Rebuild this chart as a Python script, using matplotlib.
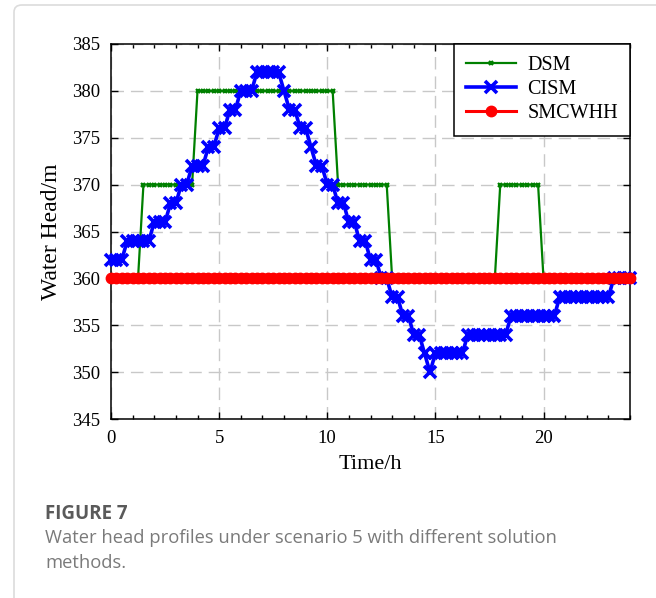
import numpy as np
import matplotlib
matplotlib.use('Agg')
import matplotlib.pyplot as plt
from matplotlib.patches import FancyBboxPatch
from matplotlib.ticker import MultipleLocator

# time axis, 15 min steps over one day
time_h = np.arange(97) * 0.25

dsm = [360, 360, 360, 360, 360, 360,
       370, 370, 370, 370, 370, 370, 370, 370, 370, 370,
       380, 380, 380, 380, 380, 380, 380, 380, 380, 380, 380, 380, 380,
       380, 380, 380, 380, 380, 380, 380, 380, 380, 380, 380, 380, 380,
       370, 370, 370, 370, 370, 370, 370, 370, 370, 370,
       360, 360, 360, 360, 360, 360, 360, 360, 360, 360,
       360, 360, 360, 360, 360, 360, 360, 360, 360, 360,
       370, 370, 370, 370, 370, 370, 370, 370,
       360, 360, 360, 360, 360, 360, 360, 360, 360, 360, 360, 360, 360,
       360, 360, 360, 360]

cism = [362, 362, 362, 364, 364, 364, 364, 364, 366, 366, 366,
        368, 368, 370, 370, 372, 372, 372, 374, 374, 376, 376,
        378, 378, 380, 380, 380, 382, 382, 382, 382, 382,
        380, 378, 378, 376, 376, 374, 372, 372, 370, 370,
        368, 368, 366, 366, 364, 364, 362, 362, 360, 360,
        358, 358, 356, 356, 354, 354, 352, 350,
        352, 352, 352, 352, 352, 352,
        354, 354, 354, 354, 354, 354, 354, 354,
        356, 356, 356, 356, 356, 356, 356, 356, 356,
        358, 358, 358, 358, 358, 358, 358, 358, 358, 358,
        360, 360, 360, 360]

smcwhh = [360] * 97

y_ticks = [345, 350, 355, 360, 365, 370, 375, 380, 385]
x_ticks = [0, 5, 10, 15, 20]

W, H = 656, 598
fig = plt.figure(figsize=(W / 100, H / 100), dpi=100)

# light card frame around figure + caption
frame = FancyBboxPatch((14 / W, -0.2), 1.2, 1.2 - 5 / H,
                       boxstyle='round,pad=0,rounding_size=0.012',
                       transform=fig.transFigure, facecolor='none',
                       edgecolor='#dcdcdc', lw=1.2)
fig.patches.append(frame)

ax = fig.add_axes([111 / W, 1 - 419 / H, (630 - 111) / W, (419 - 44) / H])

serif = 'Liberation Serif'

ax.plot(time_h, dsm, color='green', lw=1.6, marker='x', ms=3.5, mew=1.6,
        label='DSM', clip_on=False, zorder=3)
ax.plot(time_h, cism, color='blue', lw=2.6, marker='x', ms=8, mew=2.6,
        label='CISM', clip_on=False, zorder=4)
ax.plot(time_h, smcwhh, color='red', lw=2.2, marker='o', ms=7.5,
        label='SMCWHH', clip_on=False, zorder=5)

ax.set_xlim(0, 24)
ax.set_ylim(345, 385)
ax.set_xticks(x_ticks)
ax.set_yticks(y_ticks)
ax.xaxis.set_minor_locator(MultipleLocator(1))
ax.tick_params(which='both', direction='in', top=True, right=True,
               labelsize=13.5, width=1)
ax.tick_params(which='major', length=5, pad=8)
ax.tick_params(which='minor', length=3)
for lab in ax.get_xticklabels() + ax.get_yticklabels():
    lab.set_family(serif)

ax.grid(True, which='major', color='#c8c8c8', lw=1, linestyle=(0, (9, 5)))
ax.set_axisbelow(True)
for s in ax.spines.values():
    s.set_linewidth(1.1)

ax.set_xlabel('Time/h', fontsize=16, family=serif, labelpad=6)
ax.set_ylabel('Water Head/m', fontsize=17, family=serif, labelpad=7)

leg = ax.legend(loc='upper right', fancybox=False, edgecolor='black',
                framealpha=1, borderaxespad=0, handlelength=2.5,
                handletextpad=0.55, prop={'family': serif, 'size': 14.5},
                labelspacing=0.25, borderpad=0.6)
leg.get_frame().set_linewidth(1.1)

fig.text(45 / W, 1 - 514 / H, 'FIGURE 7', family='Open Sans', weight='bold',
         fontsize=13.5, color='#5a5a5a', va='center', ha='left')
fig.text(45 / W, 1 - 538 / H,
         'Water head profiles under scenario 5 with different solution',
         family='Open Sans', fontsize=13.2, color='#7a7a7a', va='center', ha='left')
fig.text(45 / W, 1 - 563 / H, 'methods.', family='Open Sans', fontsize=13.2,
         color='#7a7a7a', va='center', ha='left')

fig.savefig('out.png', dpi=100)
